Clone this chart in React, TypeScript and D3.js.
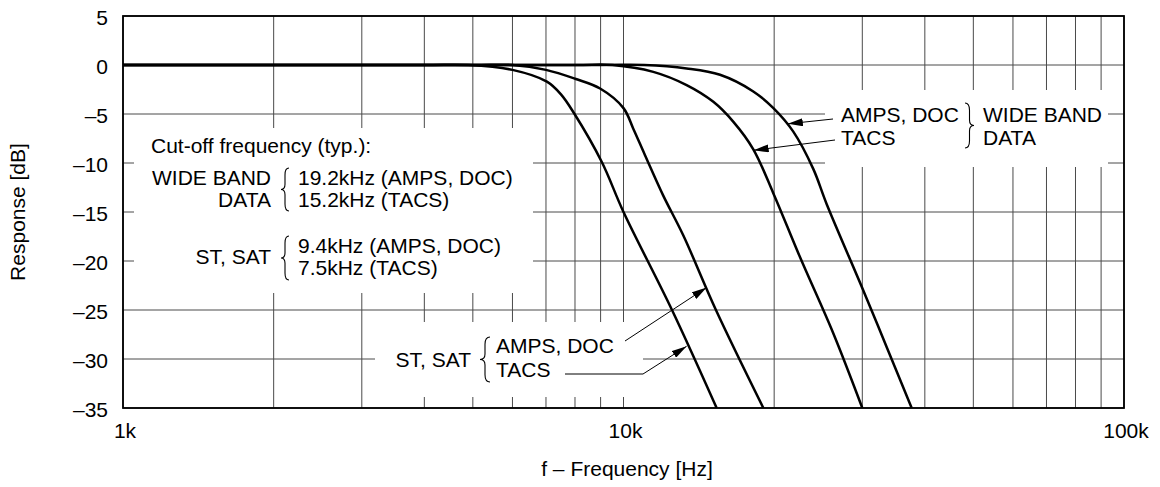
import React from 'react';
import * as d3 from 'd3';

// ---------- data ----------
const xTickValues = [1000, 10000, 100000];
const xTickLabels = ['1k', '10k', '100k'];
const yTickValues = [5, 0, -5, -10, -15, -20, -25, -30, -35];
const yTickLabels = ['5', '0', '–5', '–10', '–15', '–20', '–25', '–30', '–35'];

// ST, SAT – TACS (7.5 kHz)
const stTacsFreqK = [1, 4, 4.9, 6, 7.03, 7.5, 7.96, 9.05, 10, 12.5, 15.35];
const stTacsDb = [0, 0, 0, -0.5, -1.7, -3.0, -4.9, -9.9, -15, -25, -35];
// ST, SAT – AMPS, DOC (9.4 kHz)
const stAmpsFreqK = [1, 5, 6, 7, 8, 8.98, 10, 10.46, 11.04, 12, 13.17, 15.3, 19.03];
const stAmpsDb = [0, 0, 0, -0.5, -1.4, -2.4, -4.4, -6.5, -9.2, -13.3, -17.4, -25, -35];
// WIDE BAND DATA – TACS (15.2 kHz)
const wbTacsFreqK = [1, 8, 9.5, 11.47, 13.37, 15.12, 16.58, 18.17, 19.93, 22.52, 26.26, 30.0];
const wbTacsDb = [0, 0, 0, -0.7, -2.05, -3.76, -5.8, -8.6, -13.1, -19.6, -27.4, -35];
// WIDE BAND DATA – AMPS, DOC (19.2 kHz)
const wbAmpsFreqK = [1, 9, 11, 13.37, 15.59, 18.17, 19.93, 21.84, 23.94, 25.47, 30.14, 33.57, 37.65];
const wbAmpsDb = [0, 0, 0, -0.35, -1.0, -2.7, -4.4, -6.8, -10.6, -14.2, -23, -28.8, -35];

const seriesFreqs = [stTacsFreqK, stAmpsFreqK, wbTacsFreqK, wbAmpsFreqK];
const seriesDbs = [stTacsDb, stAmpsDb, wbTacsDb, wbAmpsDb];

// arrow tips (kHz, dB) pointing at the curves
const tipWbAmps = [21.3, -6.0];
const tipWbTacs = [18.2, -8.7];
const tipStAmps = [14.66, -22.7];
const tipStTacs = [13.37, -28.7];

// ---------- layout ----------
const W = 1160;
const H = 487;
const L = 123, R = 1124, T = 16, B = 408;
const FONT = '"Liberation Sans", Arial, Helvetica, sans-serif';
const FS = 21;

const x = d3.scaleLog().domain([1000, 100000]).range([L, R]);
const y = d3.scaleLinear().domain([5, -35]).range([T, B]);

const gridFreqs: number[] = [];
for (const dec of [1000, 10000]) for (let n = 1; n <= 9; n++) gridFreqs.push(n * dec);
gridFreqs.push(100000);

function bracePath(xl: number, xr: number, y0: number, y1: number, open: 'left' | 'right') {
  const ym = (y0 + y1) / 2;
  const h = y1 - y0;
  const xm = (xl + xr) / 2;
  const tip = open === 'left' ? xl : xr;
  const end = open === 'left' ? xr : xl;
  return `M${end},${y0} Q${xm},${y0} ${xm},${y0 + h * 0.16} L${xm},${ym - h * 0.12} Q${xm},${ym} ${tip},${ym} Q${xm},${ym} ${xm},${ym + h * 0.12} L${xm},${y1 - h * 0.16} Q${xm},${y1} ${end},${y1}`;
}

const T_ = (props: any) => (
  <text fontFamily={FONT} fontSize={FS} fill="#000" {...props} />
);

export default function App() {
  const line = d3
    .line<[number, number]>()
    .x((d) => x(d[0] * 1000))
    .y((d) => Math.max(y(0), y(d[1])))
    .curve(d3.curveCatmullRom.alpha(0.5));

  const curves = seriesFreqs.map((fs, i) =>
    line(fs.map((f, j) => [f, seriesDbs[i][j]] as [number, number]))
  );

  const px = (t: number[]) => [x(t[0] * 1000), y(t[1])];
  const [a1x, a1y] = px(tipWbAmps);
  const [a2x, a2y] = px(tipWbTacs);
  const [a3x, a3y] = px(tipStAmps);
  const [a4x, a4y] = px(tipStTacs);

  const gridColor = '#4a4a4a';

  return (
    <svg
      width={W}
      height={H}
      viewBox={`0 0 ${W} ${H}`}
      style={{ position: 'absolute', left: 0, top: 0, background: '#fff' }}
    >
      <defs>
        <clipPath id="plot">
          <rect x={L} y={T} width={R - L} height={B - T} />
        </clipPath>
        <marker
          id="ah"
          markerUnits="userSpaceOnUse"
          markerWidth={15}
          markerHeight={8}
          refX={15}
          refY={4}
          orient="auto"
        >
          <path d="M0,0 L15,4 L0,8 Z" fill="#000" />
        </marker>
      </defs>
      <rect x={0} y={0} width={W} height={H} fill="#fff" />

      {/* grid */}
      {gridFreqs.map((f) => (
        <line key={'v' + f} x1={x(f)} x2={x(f)} y1={T} y2={B} stroke={gridColor} strokeWidth={1} />
      ))}
      {yTickValues.map((v) => (
        <line key={'h' + v} x1={L} x2={R} y1={y(v)} y2={y(v)} stroke={gridColor} strokeWidth={1} />
      ))}

      {/* annotation backgrounds */}
      <rect x={134} y={128} width={533 - 134} height={293 - 128} fill="#fff" />
      <rect x={825} y={90} width={1108 - 825} height={167 - 90} fill="#fff" />
      <rect x={375} y={322} width={643 - 375} height={397 - 322} fill="#fff" />

      {/* frame */}
      <rect x={L} y={T} width={R - L} height={B - T} fill="none" stroke="#000" strokeWidth={1.8} />

      {/* curves */}
      <g clipPath="url(#plot)">
        {curves.map((d, i) => (
          <path key={i} d={d || ''} fill="none" stroke="#000" strokeWidth={2.5} strokeLinejoin="round" />
        ))}
      </g>

      {/* y tick labels */}
      {yTickValues.map((v, i) => (
        <T_ key={'yl' + v} x={108} y={y(v) + 9} textAnchor="end">
          {yTickLabels[i]}
        </T_>
      ))}
      {/* x tick labels */}
      {xTickValues.map((v, i) => (
        <T_ key={'xl' + v} x={x(v) + 2} y={438} textAnchor="middle">
          {xTickLabels[i]}
        </T_>
      ))}

      {/* axis titles */}
      <T_ x={627} y={476} textAnchor="middle">f – Frequency [Hz]</T_>
      <T_ transform={`translate(25,${(T + B) / 2}) rotate(-90)`} textAnchor="middle">
        Response [dB]
      </T_>

      {/* left annotation */}
      <T_ x={151} y={153}>Cut-off frequency (typ.):</T_>
      <T_ x={271} y={185} textAnchor="end">WIDE BAND</T_>
      <T_ x={271} y={207} textAnchor="end">DATA</T_>
      <path d={bracePath(281, 289, 168, 211, 'left')} fill="none" stroke="#000" strokeWidth={1.1} />
      <T_ x={298} y={185}>19.2kHz (AMPS, DOC)</T_>
      <T_ x={298} y={207}>15.2kHz (TACS)</T_>
      <T_ x={271} y={264} textAnchor="end">ST, SAT</T_>
      <path d={bracePath(281, 289, 236, 280, 'left')} fill="none" stroke="#000" strokeWidth={1.1} />
      <T_ x={298} y={253}>9.4kHz (AMPS, DOC)</T_>
      <T_ x={298} y={275}>7.5kHz (TACS)</T_>

      {/* right annotation */}
      <T_ x={841} y={122}>AMPS, DOC</T_>
      <T_ x={841} y={145}>TACS</T_>
      <path d={bracePath(965, 974, 103, 148, 'right')} fill="none" stroke="#000" strokeWidth={1.1} />
      <T_ x={983} y={122}>WIDE BAND</T_>
      <T_ x={983} y={145}>DATA</T_>
      <line x1={833} y1={119} x2={a1x} y2={a1y} stroke="#000" strokeWidth={1} markerEnd="url(#ah)" />
      <line x1={835} y1={140} x2={a2x} y2={a2y} stroke="#000" strokeWidth={1} markerEnd="url(#ah)" />

      {/* bottom annotation */}
      <T_ x={471} y={367} textAnchor="end">ST, SAT</T_>
      <path d={bracePath(480, 490, 337, 382, 'left')} fill="none" stroke="#000" strokeWidth={1.1} />
      <T_ x={496} y={353}>AMPS, DOC</T_>
      <T_ x={496} y={377}>TACS</T_>
      <line x1={625} y1={341} x2={a3x} y2={a3y} stroke="#000" strokeWidth={1} markerEnd="url(#ah)" />
      <polyline
        points={`565,374 643,374 ${a4x},${a4y}`}
        fill="none"
        stroke="#000"
        strokeWidth={1}
        markerEnd="url(#ah)"
      />
    </svg>
  );
}
